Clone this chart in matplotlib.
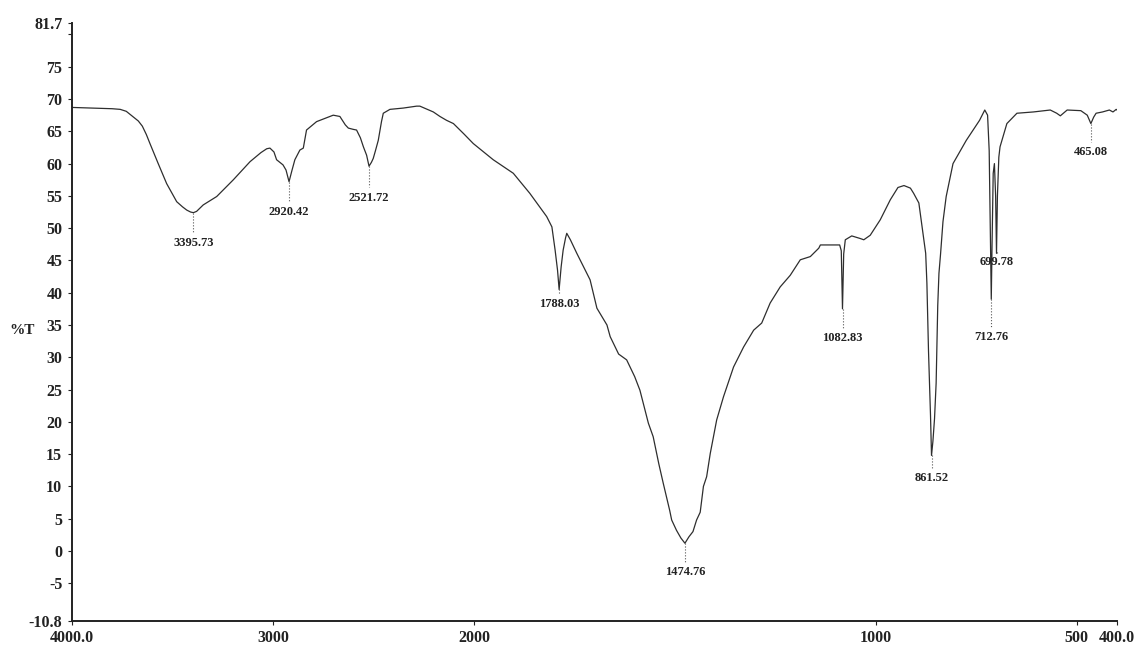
import numpy as np
import matplotlib
matplotlib.use('Agg')
import matplotlib.pyplot as plt

# wavenumber (cm-1) and %T
wavenumber = [4000, 3900, 3800, 3760, 3730, 3710, 3690, 3670, 3650, 3630, 3612, 3571, 3529, 3479,
              3450, 3429, 3410, 3396, 3380, 3347, 3280, 3197, 3114, 3060, 3031, 3015, 2995, 2982,
              2950, 2935, 2920, 2905, 2891, 2866, 2849, 2833, 2783, 2700, 2667, 2640, 2625, 2600,
              2584, 2565, 2550, 2534, 2522, 2510, 2501, 2490, 2476, 2460, 2451, 2418, 2352, 2285,
              2269, 2202, 2169, 2136, 2102, 2050, 2003, 1952, 1902, 1861, 1840, 1819, 1806, 1798,
              1792, 1788, 1783, 1778, 1772, 1769, 1760, 1744, 1719, 1711, 1694, 1669, 1661, 1640,
              1620, 1600, 1587, 1566, 1554, 1540, 1529, 1513, 1508, 1496, 1485, 1475, 1465, 1455,
              1446, 1437, 1429, 1421, 1412, 1396, 1379, 1354, 1329, 1304, 1284, 1263, 1238, 1213,
              1188, 1163, 1142, 1138, 1100, 1090, 1086, 1083, 1080, 1076, 1060, 1039, 1030, 1014,
              989, 964, 945, 930, 914, 906, 893, 885, 876, 873, 869, 864, 861.5, 858, 854, 850,
              846, 843, 839, 833, 825, 808, 775, 742, 729, 722, 718, 714, 712.8, 711, 708, 705,
              702, 699.8, 697.5, 694, 691, 674, 649, 608, 566, 550, 541, 524, 490, 474, 465, 458,
              452, 436, 419, 410, 402, 400]
transmittance = [68.7, 68.6, 68.5, 68.4, 68.1, 67.6, 67.1, 66.6, 65.8, 64.5, 63.1, 60.0, 56.9, 54.1,
                 53.3, 52.8, 52.5, 52.4, 52.6, 53.6, 54.9, 57.5, 60.3, 61.7, 62.3, 62.4, 61.8, 60.6,
                 59.8, 59.0, 57.2, 59.0, 60.6, 62.1, 62.4, 65.2, 66.5, 67.5, 67.3, 66.0, 65.5, 65.3,
                 65.2, 64.0, 62.6, 61.3, 59.6, 60.2, 60.8, 62.0, 63.6, 66.5, 67.8, 68.4, 68.6, 68.9,
                 68.9, 68.0, 67.3, 66.7, 66.2, 64.6, 63.1, 60.6, 58.5, 55.4, 53.6, 51.8, 50.2, 46.6,
                 43.5, 40.5, 44.0, 46.6, 48.5, 49.2, 48.2, 46.1, 43.0, 42.0, 37.6, 35.0, 33.2, 30.5,
                 29.6, 27.0, 24.9, 19.8, 17.7, 13.5, 10.5, 6.3, 4.8, 3.2, 2.0, 1.2, 2.2, 3.0,
                 4.8, 6.0, 10.0, 11.5, 15.1, 20.3, 23.9, 28.5, 31.6, 34.2, 35.3, 38.4, 40.9, 42.7,
                 45.1, 45.6, 46.9, 47.4, 47.4, 47.4, 46.5, 37.5, 46.0, 48.2, 48.8, 48.4, 48.2, 48.9,
                 51.3, 54.4, 56.3, 56.6, 56.2, 55.4, 53.9, 50.2, 46.1, 41.5, 31.0, 21.0, 14.8, 17.0, 20.5, 26.0,
                 38.0, 43.0, 46.0, 51.0, 54.9, 60.0, 63.6, 66.7, 68.3, 67.5, 62.0, 45.0, 39.0, 47.0, 58.5, 60.0,
                 55.0, 46.1, 55.0, 61.0, 62.6, 66.2, 67.8, 68.0, 68.3, 67.8, 67.4, 68.3, 68.2, 67.5, 66.2, 67.2,
                 67.8, 68.0, 68.3, 68.0, 68.4, 68.3]

# labelled peaks: position, curve minimum, label height (%T)
peak_pos = [3395.73, 2920.42, 2521.72, 1788.03, 1474.76, 1082.83, 861.52, 712.76, 699.78, 465.08]
peak_min = [52.4, 57.2, 59.6, 40.5, 1.2, 37.5, 14.8, 39.0, 46.1, 66.2]
peak_text_y = [47.7, 52.5, 54.7, 38.2, -3.3, 33.0, 11.3, 33.1, 44.8, 61.8]

y_ticks = [81.7, 75, 70, 65, 60, 55, 50, 45, 40, 35, 30, 25, 20, 15, 10, 5, 0, -5, -10.8]
x_ticks = [4000, 3000, 2000, 1000, 500, 400]
x_tick_labels = ['4000.0', '3000', '2000', '1000', '500', '400.0']


# the instrument halves the scale above 2000 cm-1
def fwd(x):
    x = np.asarray(x, dtype=float)
    return np.where(x <= 2000, x, 2000 + (x - 2000) / 2.0)


def inv(u):
    u = np.asarray(u, dtype=float)
    return np.where(u <= 2000, u, 2000 + (u - 2000) * 2.0)


plt.rcParams['font.family'] = ['Liberation Serif', 'DejaVu Serif']
plt.rcParams['font.weight'] = 'bold'

fig = plt.figure(figsize=(11.37, 6.48), dpi=100)
ax = fig.add_axes([72 / 1137, 27.3 / 648, 1045 / 1137, 597.2 / 648])

ax.plot(wavenumber, transmittance, color='#2e2e2e', lw=0.9)

ax.set_xscale('function', functions=(fwd, inv))
ax.set_xlim(4000, 400)
ax.set_ylim(-10.8, 81.7)

for pos, low, ty in zip(peak_pos, peak_min, peak_text_y):
    ax.plot([pos, pos], [low, ty + 1.6], color='#555555', lw=0.8, ls=':')
    ax.text(pos, ty, '%.2f' % pos, ha='center', va='center', fontsize=9, color='#222222',
            fontweight='bold')

ax.set_yticks(y_ticks)
ax.set_yticklabels(['%g' % v for v in y_ticks])
ax.set_yticks([80], minor=True)
ax.set_xticks(x_ticks)
ax.set_xticklabels(x_tick_labels)
ax.xaxis.set_minor_locator(matplotlib.ticker.NullLocator())

ax.tick_params(axis='both', which='both', direction='out', labelsize=11.5, colors='#222222',
               length=3, width=0.8)
ax.tick_params(axis='y', pad=4)
ax.tick_params(axis='x', pad=4)

for side in ['top', 'right']:
    ax.spines[side].set_visible(False)
for side in ['left', 'bottom']:
    ax.spines[side].set_linewidth(1.4)
    ax.spines[side].set_color('#222222')

fig.text(22 / 1137, 1 - 330 / 648, '%T', ha='center', va='center', fontsize=11, color='#222222',
         fontweight='bold')

plt.savefig('out.png', dpi=100)
